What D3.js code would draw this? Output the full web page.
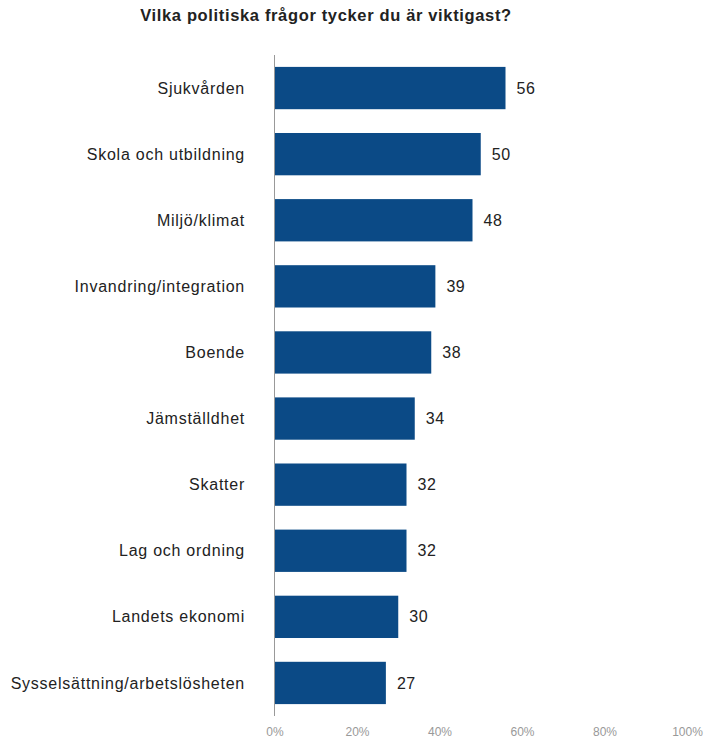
<!DOCTYPE html>
<html><head><meta charset="utf-8">
<script src="https://cdn.jsdelivr.net/npm/d3@7"></script>
<style>body{margin:0;background:#fff}text{font-family:"Liberation Sans",Arial,sans-serif}</style>
</head><body>
<svg id="c" width="705" height="738"></svg>
<script>
const categories = ["Sjukvården","Skola och utbildning","Miljö/klimat","Invandring/integration","Boende","Jämställdhet","Skatter","Lag och ordning","Landets ekonomi","Sysselsättning/arbetslösheten"];
const values = [56,50,48,39,38,34,32,32,30,27];
const ticks = [0,20,40,60,80,100];
const title = "Vilka politiska frågor tycker du är viktigast?";

const svg = d3.select("#c");
const x = d3.scaleLinear().domain([0,100]).range([274.5,687]);
const y = d3.scaleBand().domain(categories).range([55,716]).paddingInner(0.36).paddingOuter(0.18);

svg.append("text").attr("x",326).attr("y",21).attr("text-anchor","middle")
  .attr("font-size",16.5).attr("font-weight","bold").attr("fill","#222").attr("letter-spacing","0.65").text(title);

svg.selectAll("rect.bar").data(values).join("rect").attr("class","bar")
  .attr("x",x(0)).attr("y",(d,i)=>y(categories[i]))
  .attr("width",d=>x(d)-x(0)).attr("height",y.bandwidth())
  .attr("fill","#0b4a86");

svg.append("line").attr("x1",x(0)).attr("x2",x(0)).attr("y1",55).attr("y2",716)
  .attr("stroke","#999").attr("stroke-width",1);

svg.selectAll("text.cat").data(categories).join("text").attr("class","cat")
  .attr("x",245).attr("y",d=>y(d)+y.bandwidth()/2).attr("dy","0.35em")
  .attr("text-anchor","end").attr("font-size",16).attr("letter-spacing","0.75").attr("fill","#222").text(d=>d);

svg.selectAll("text.val").data(values).join("text").attr("class","val")
  .attr("x",d=>x(d)+11).attr("y",(d,i)=>y(categories[i])+y.bandwidth()/2).attr("dy","0.35em")
  .attr("font-size",16).attr("letter-spacing","0.5").attr("fill","#222").text(d=>d);

const ax = d3.axisBottom(x).tickValues(ticks).tickFormat(d=>d+"%").tickSize(0).tickPadding(0);
const g = svg.append("g").attr("transform","translate(0,727)").call(ax);
g.select(".domain").remove();
g.selectAll("text").attr("font-size",12).attr("fill","#999").attr("font-family","Liberation Sans, Arial, sans-serif");
</script>
</body></html>
